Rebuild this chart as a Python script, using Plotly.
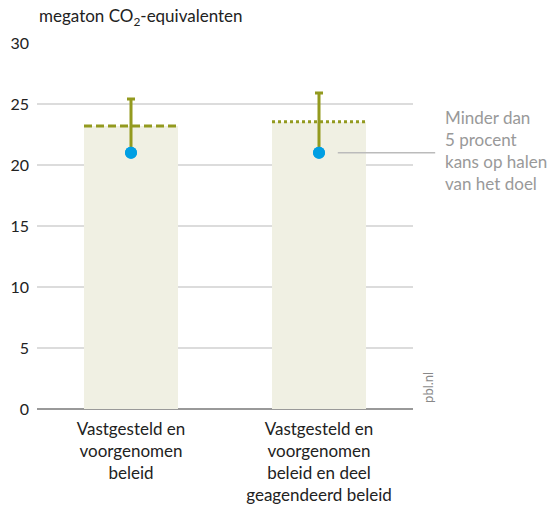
import plotly.graph_objects as go

# Scenario data (megaton CO2-equivalents)
categories = ["Vastgesteld en<br>voorgenomen<br>beleid",
              "Vastgesteld en<br>voorgenomen<br>beleid en deel<br>geagendeerd beleid"]
bar_values = [23.2, 23.55]          # bar height / policy level line
median_values = [21.0, 21.0]        # central estimate (dot)
upper_values = [25.4, 25.9]         # upper end of uncertainty range
line_styles = ["8px,4px", "3px,3px"]
y_ticks = [0, 5, 10, 15, 20, 25, 30]

BAR_COLOR = "#f0f0e3"
OLIVE = "#939a1f"
BLUE = "#009fe3"
FONT = "Lato"
pos = list(range(len(categories)))
half = 0.25

fig = go.Figure()

fig.add_trace(go.Bar(
    x=pos, y=bar_values, width=2 * half, marker=dict(color=BAR_COLOR, line=dict(width=0)),
    hoverinfo="skip", showlegend=False,
))

for i, (v, dash) in enumerate(zip(bar_values, line_styles)):
    fig.add_trace(go.Scatter(
        x=[pos[i] - half, pos[i] + half], y=[v, v], mode="lines",
        line=dict(color=OLIVE, width=3, dash=dash), showlegend=False, hoverinfo="skip",
    ))

fig.add_trace(go.Scatter(
    x=pos, y=median_values, mode="markers",
    marker=dict(color=BLUE, size=12, line=dict(width=0)),
    error_y=dict(type="data", symmetric=False,
                 array=[u - m for u, m in zip(upper_values, median_values)],
                 arrayminus=[0, 0], color=OLIVE, thickness=3, width=4),
    showlegend=False, hoverinfo="skip",
))
# draw dot on top of whisker
fig.add_trace(go.Scatter(
    x=pos, y=median_values, mode="markers",
    marker=dict(color=BLUE, size=12, line=dict(width=0)),
    showlegend=False, hoverinfo="skip",
))

fig.update_layout(
    width=554, height=506,
    margin=dict(l=37, r=141, t=43, b=97, autoexpand=False),
    paper_bgcolor="white", plot_bgcolor="white",
    font=dict(family=FONT, size=16, color="#222"),
    xaxis=dict(range=[-0.5, 1.5], tickvals=pos, ticktext=categories, automargin=False,
               showgrid=False, zeroline=False, showline=False, ticks="",
               ticklabelstandoff=8,
               tickfont=dict(size=17, color="#222"), fixedrange=True),
    yaxis=dict(range=[0, 30], tickvals=y_ticks, showgrid=True, gridcolor="#dcdcdc",
               gridwidth=1.5, zeroline=True, zerolinecolor="#999", zerolinewidth=1.5,
               automargin=False,
               ticks="", tickfont=dict(size=16, color="#222"), ticklabelstandoff=7,
               fixedrange=True),
    bargap=0,
)

fig.add_annotation(text="megaton CO<sub>2</sub>-equivalenten", xref="paper", yref="paper",
                   x=0, y=1.07, xanchor="left", yanchor="middle", showarrow=False,
                   font=dict(size=17, color="#222"))

fig.add_shape(type="line", xref="paper", yref="paper", x0=0.80, x1=1.059, y0=0.7, y1=0.7,
              line=dict(color="#bbbbbb", width=1.5))
fig.add_annotation(text="Minder dan<br>5 procent<br>kans op halen<br>van het doel",
                   xref="paper", yref="paper", x=1.08, y=0.705, xanchor="left", yanchor="middle",
                   align="left", showarrow=False, font=dict(size=17, color="#999"))

fig.add_annotation(text="pbl.nl", xref="paper", yref="paper", x=1.04, y=0.01,
                   xanchor="center", yanchor="bottom", textangle=-90, showarrow=False,
                   font=dict(size=13, color="#888"))

fig.write_html("out.html")
